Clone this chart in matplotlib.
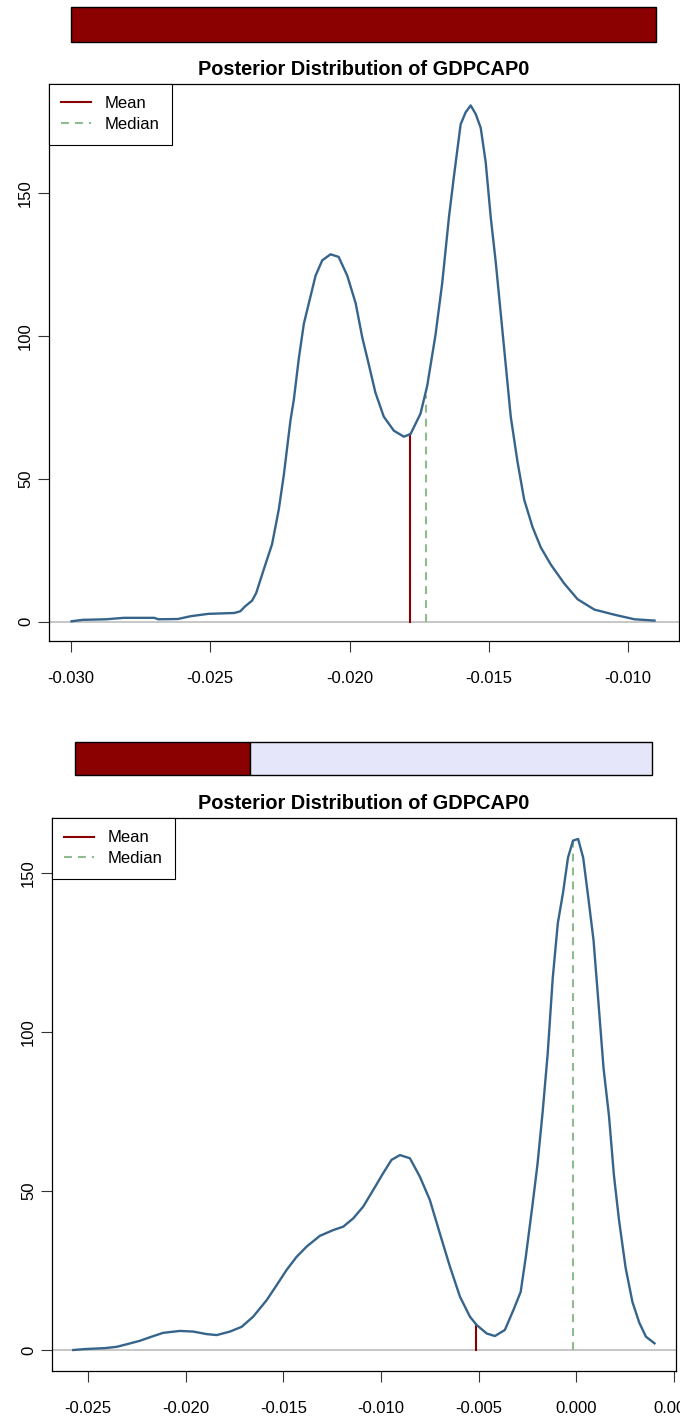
import matplotlib
matplotlib.use("Agg")
import matplotlib.pyplot as plt
from matplotlib.ticker import FormatStrFormatter, FixedLocator

plt.rcParams['font.family'] = ['Liberation Sans', 'DejaVu Sans']
plt.rcParams['axes.unicode_minus'] = False

# ---- data ----
title = "Posterior Distribution of GDPCAP0"

# top panel density
top_x = [-0.02998, -0.02959, -0.02874, -0.02811, -0.02701, -0.02686, -0.02616, -0.02569,
         -0.02507, -0.02414, -0.02392, -0.02374, -0.02350, -0.02335, -0.02308, -0.02278,
         -0.02254, -0.02236, -0.02212, -0.02200, -0.02182, -0.02164, -0.02146, -0.02122,
         -0.02098, -0.02068, -0.02039, -0.02008, -0.01978, -0.01954, -0.01936, -0.01907,
         -0.01877, -0.01841, -0.01805, -0.01781, -0.01745, -0.01721, -0.01691, -0.01667,
         -0.01643, -0.01625, -0.01601, -0.01583, -0.01565, -0.01547, -0.01529, -0.01511,
         -0.01493, -0.01475, -0.01457, -0.01439, -0.01421, -0.01397, -0.01373, -0.01343,
         -0.01313, -0.01277, -0.01229, -0.01181, -0.01121, -0.01049, -0.00977, -0.00905]
top_y = [0.1, 0.6, 0.8, 1.3, 1.3, 0.8, 0.9, 1.9,
         2.7, 3.0, 3.6, 5.4, 7.3, 10.0, 18.2, 27.1,
         39.2, 51.2, 70.4, 77.6, 92.1, 104.2, 111.4, 121.0,
         126.4, 128.5, 127.6, 121.0, 111.4, 99.3, 92.1, 80.1,
         71.7, 66.8, 64.7, 65.6, 72.8, 82.5, 100.5, 118.6,
         141.5, 155.9, 174.0, 178.2, 180.6, 177.6, 172.8, 160.7,
         141.5, 125.8, 107.8, 89.7, 71.6, 56.0, 42.7, 33.1,
         25.9, 19.9, 13.3, 7.8, 4.2, 2.4, 0.8, 0.35]
top_mean, top_mean_h = -0.01784, 65.5
top_median, top_median_h = -0.01727, 79.4
top_share = 1.0

# bottom panel density
bot_x = [-0.02575, -0.02515, -0.02413, -0.02353, -0.02302, -0.02234, -0.02174, -0.02115,
         -0.02029, -0.01961, -0.01892, -0.01841, -0.01773, -0.01713, -0.01654, -0.01585,
         -0.01534, -0.01483, -0.01432, -0.01381, -0.01313, -0.01245, -0.01193, -0.01142,
         -0.01091, -0.01040, -0.00989, -0.00946, -0.00903, -0.00852, -0.00801, -0.00750,
         -0.00699, -0.00647, -0.00596, -0.00545, -0.00511, -0.00459, -0.00417, -0.00366,
         -0.00320, -0.00285, -0.00259, -0.00225, -0.00199, -0.00173, -0.00147, -0.00121,
         -0.00095, -0.00068, -0.00043, -0.00017, 0.00009, 0.00035, 0.00062, 0.00088,
         0.00113, 0.00139, 0.00167, 0.00192, 0.00218, 0.00252, 0.00287, 0.00322,
         0.00356, 0.00400]
bot_y = [0.0, 0.3, 0.6, 1.0, 1.8, 2.9, 4.2, 5.4,
         6.0, 5.8, 5.0, 4.7, 5.8, 7.3, 10.5, 15.7,
         20.4, 25.2, 29.3, 32.5, 35.9, 37.7, 38.8, 41.4,
         45.1, 50.3, 55.6, 59.8, 61.3, 60.3, 54.5, 47.2,
         36.7, 26.2, 16.8, 10.5, 7.9, 5.2, 4.4, 6.3,
         12.9, 18.3, 29.2, 45.4, 58.4, 74.6, 93.0, 116.9,
         134.2, 143.9, 154.8, 160.2, 160.7, 154.8, 141.8, 128.8,
         109.3, 88.7, 73.6, 55.1, 41.0, 25.9, 15.1, 8.6,
         4.2, 2.1]
bot_mean, bot_mean_h = -0.00514, 7.9
bot_median, bot_median_h = -0.00016, 160.3
bot_share = 0.303

top_xticks = [-0.030, -0.025, -0.020, -0.015, -0.010]
bot_xticks = [-0.025, -0.020, -0.015, -0.010, -0.005, 0.000, 0.005]
yticks = [0, 50, 100, 150]

CURVE = '#36648B'
MEAN = '#8B0000'
MEDIAN = '#8FBC8F'
LAV = '#E6E6FA'

W, H = 680, 1416
fig = plt.figure(figsize=(W / 100, H / 100), dpi=100)


def px_box(l, t, r, b):
    return [l / W, 1 - b / H, (r - l) / W, (b - t) / H]


def share_bar(rect, share):
    ax = fig.add_axes(rect)
    ax.barh([0], [share], height=1, color=MEAN, edgecolor='black', lw=1, clip_on=False)
    if share < 1:
        ax.barh([0], [1 - share], left=share, height=1, color=LAV,
                edgecolor='black', lw=1, clip_on=False)
    ax.set_xlim(0, 1)
    ax.set_ylim(-0.5, 0.5)
    ax.axis('off')


def density(rect, xs, ys, mean, mean_h, med, med_h, xticks, xlim, ylim):
    ax = fig.add_axes(rect)
    ax.axhline(0, color='#BEBEBE', lw=1.2, zorder=1)
    ax.plot(xs, ys, color=CURVE, lw=1.7, zorder=3)
    ax.plot([mean, mean], [0, mean_h], color=MEAN, lw=1.5, zorder=2, label='Mean')
    ax.plot([med, med], [0, med_h], color=MEDIAN, lw=1.5, ls=(0, (3.8, 2.9)),
            zorder=2, label='Median')
    ax.set_xlim(*xlim)
    ax.set_ylim(*ylim)
    ax.xaxis.set_major_locator(FixedLocator(xticks))
    ax.yaxis.set_major_locator(FixedLocator(yticks))
    ax.xaxis.set_major_formatter(FormatStrFormatter('%.3f'))
    ax.yaxis.set_major_formatter(FormatStrFormatter('%d'))
    ax.tick_params(axis='both', length=8, width=0.8, labelsize=12, color='#333333')
    ax.tick_params(axis='x', pad=13.5)
    ax.tick_params(axis='y', pad=3.5)
    for lab in ax.get_yticklabels():
        lab.set_rotation(90)
        lab.set_va('center')
    for s in ax.spines.values():
        s.set_linewidth(0.9)
    ax.set_title(title, fontsize=14.4, fontweight='bold', pad=6.5)
    leg = ax.legend(loc='upper left', bbox_to_anchor=(0, 1), borderaxespad=0,
                    fancybox=False, edgecolor='black', framealpha=1, fontsize=12,
                    handlelength=1.75, handletextpad=0.85, labelspacing=0.35,
                    borderpad=0.74)
    leg.get_frame().set_linewidth(0.8)
    return ax


share_bar(px_box(71, 7, 656, 42), top_share)
density(px_box(49, 84, 679, 641), top_x, top_y, top_mean, top_mean_h,
        top_median, top_median_h, top_xticks, (-0.03079, -0.00817), (-6.8, 188.1))

share_bar(px_box(75, 742, 652, 775), bot_share)
density(px_box(52, 818, 676, 1371), bot_x, bot_y, bot_mean, bot_mean_h,
        bot_median, bot_median_h, bot_xticks, (-0.02684, 0.0051), (-6.6, 167.3))

fig.savefig('out.png', dpi=100)
